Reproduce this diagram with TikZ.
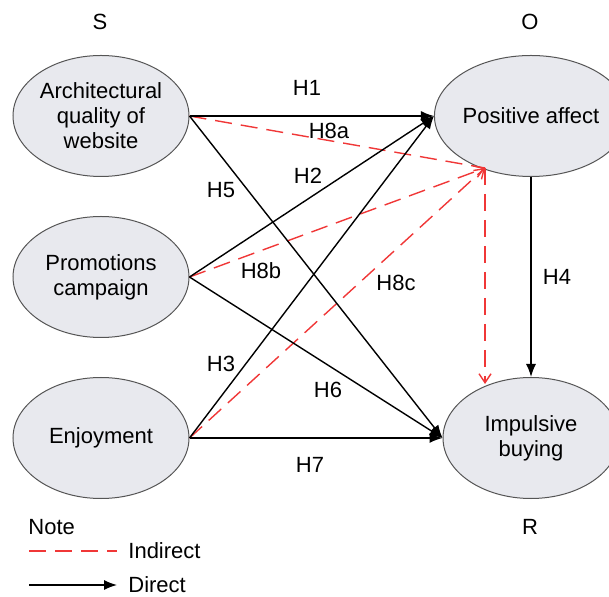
\documentclass[tikz,border=0pt]{standalone}
\usepackage{fontspec}
\setmainfont{Liberation Sans}
\usetikzlibrary{shapes.geometric,arrows.meta}
\definecolor{ovalfill}{RGB}{232,233,238}
\definecolor{ovalline}{RGB}{85,85,85}
\definecolor{indred}{RGB}{240,55,55}

\begin{document}
\begin{tikzpicture}[x=0.5pt,y=-0.5pt,
        font=\fontsize{11}{12.5}\selectfont,
        var/.style={ellipse,draw=ovalline,fill=ovalfill,line width=0.5pt,minimum width=88pt,minimum height=60.5pt,inner sep=0pt,align=center},
        direct/.style={line width=0.7pt,-{Latex[length=6.5pt,width=5pt]}},
        indirect/.style={indred,line width=0.7pt,dash pattern=on 8.5pt off 4.5pt},
        indarrow/.style={indirect,-{Straight Barb[length=4.5pt,width=6pt]}}]
        \clip (0,0) rectangle (609,597);
        \node(arch) at (101,116) [var] {Architectural\\quality of\\website};
        \node(promo) at (101,277) [var] {Promotions\\campaign};
        \node(enjoy) at (101,438) [var] {Enjoyment};
        \node(pa) at (531,116) [var] {Positive affect};
        \node(ib) at (531,438) [var] {Impulsive\\buying};
        \node(s) at (100,22) {S};
        \node(o) at (530,22) {O};
        \node(r) at (530,527) {R};
        \coordinate(pa-s) at (485,168);
        \coordinate(ib-n) at (485,384);
        \draw[indirect](arch.east)--(pa-s);
        \draw[indarrow](promo.east)--(pa-s);
        \draw[indarrow](enjoy.east)--(pa-s);
        \draw[indarrow](pa-s)--(ib-n);
        \draw[direct](arch.east)--(pa.west);
        \draw[direct](promo.east)--(pa.west);
        \draw[direct](enjoy.east)--(pa.west);
        \draw[direct](arch.east)--(ib.west);
        \draw[direct](promo.east)--(ib.west);
        \draw[direct](enjoy.east)--(ib.west);
        \draw[direct](pa.south)--(ib.north);
        \node(h1) at (307,88) {H1};
        \node(h8a) at (329,131) {H8a};
        \node(h2) at (308,176) {H2};
        \node(h5) at (221,190) {H5};
        \node(h8b) at (261,271) {H8b};
        \node(h8c) at (396,283) {H8c};
        \node(h4) at (557,277) {H4};
        \node(h3) at (221,364) {H3};
        \node(h6) at (328,390) {H6};
        \node(h7) at (310,465) {H7};
        \node(note) at (28,527) [anchor=west,inner sep=0pt] {Note};
        \coordinate(ind-a) at (29,551);
        \coordinate(ind-b) at (117,551);
        \coordinate(dir-a) at (29,585);
        \coordinate(dir-b) at (117,585);
        \node(ind) at (128,551) [anchor=west,inner sep=0pt] {Indirect};
        \node(dir) at (128,585) [anchor=west,inner sep=0pt] {Direct};
        \draw[indirect](ind-a)--(ind-b);
        \draw[direct](dir-a)--(dir-b);
        \end{tikzpicture}
\end{document}
